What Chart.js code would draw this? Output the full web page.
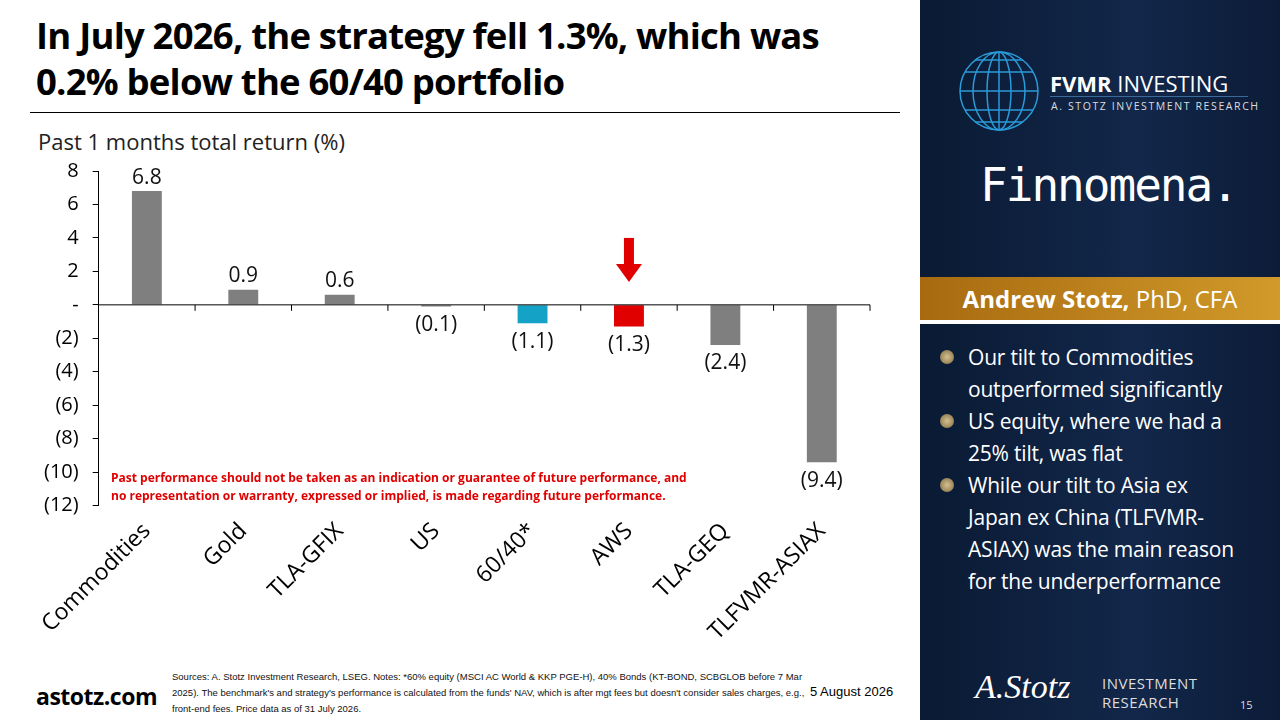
<!DOCTYPE html>
<html><head><meta charset="utf-8">
<script src="https://cdn.jsdelivr.net/npm/chart.js@4/dist/chart.umd.min.js"></script>
<style>
body{margin:0;width:1280px;height:720px;overflow:hidden;font-family:"Open Sans",sans-serif;background:#fff;position:relative}
#title{position:absolute;left:36px;top:12px;font:bold 36.5px "Open Sans",sans-serif;letter-spacing:-0.8px;line-height:46px;color:#000}
#rule{position:absolute;left:30px;top:112px;width:870px;border-top:1px solid #000}
#sub{position:absolute;left:38px;top:126px;font:22px "Open Sans",sans-serif;color:#222}
#wrap{position:absolute;left:30px;top:145px;width:850px;height:505px}
#disc{position:absolute;left:111px;top:469px;font:bold 12px "Open Sans",sans-serif;color:#e00000;line-height:18px}
#panel{position:absolute;left:920px;top:0;width:360px;height:720px;background:linear-gradient(90deg,#0a1a33,#12274a 60%,#0c1c38)}
#band{position:absolute;left:920px;top:277px;width:360px;height:43px;background:linear-gradient(90deg,#a86a10,#d19a2a);color:#fff;font:24px "Open Sans",sans-serif;text-align:center;line-height:43px;border-bottom:4px solid #fff}
#bul{position:absolute;left:938px;top:341px;width:318px;color:#fff;font:21px "Open Sans",sans-serif;line-height:32px;letter-spacing:-0.2px}
#bul div{padding-left:30px;position:relative}
#bul div:before{content:"";position:absolute;left:2px;top:9px;width:14px;height:14px;border-radius:50%;background:radial-gradient(#d8c090,#7a6a40)}
#foot{position:absolute;left:172px;top:669px;font:9.5px "Liberation Sans Narrow",sans-serif;color:#111;line-height:16px;width:640px}
</style></head><body>
<div id="title">In July 2026, the strategy fell 1.3%, which was<br>0.2% below the 60/40 portfolio</div>
<div id="rule"></div>
<div id="sub">Past 1 months total return (%)</div>
<div id="wrap"><canvas id="c"></canvas></div>
<div id="disc">Past performance should not be taken as an indication or guarantee of future performance, and<br>no representation or warranty, expressed or implied, is made regarding future performance.</div>
<div id="panel">
  <svg style="position:absolute;left:38px;top:50px" width="82" height="82" viewBox="0 0 82 82"><g fill="none" stroke="#2a9ad8" stroke-width="1.5"><circle cx="41" cy="41" r="39"/><ellipse cx="41" cy="41" rx="26" ry="39"/><ellipse cx="41" cy="41" rx="12" ry="39"/><line x1="41" y1="2" x2="41" y2="80"/><line x1="2" y1="41" x2="80" y2="41"/><line x1="7" y1="22" x2="75" y2="22"/><line x1="7" y1="60" x2="75" y2="60"/><line x1="17" y1="10" x2="65" y2="10"/><line x1="17" y1="72" x2="65" y2="72"/></g></svg>
  <div style="position:absolute;left:130px;top:68px;color:#fff;font:bold 22px 'Open Sans',sans-serif">FVMR <span style="font-weight:normal">INVESTING</span></div>
  <div style="position:absolute;left:130px;top:96px;width:198px;border-top:1px solid #3a6a9a"></div>
  <div style="position:absolute;left:131px;top:99px;color:#ddd;font:10.5px 'Open Sans',sans-serif;letter-spacing:1.6px">A. STOTZ INVESTMENT RESEARCH</div>
  <div style="position:absolute;left:60px;top:158px;color:#fff;font:46px 'DejaVu Sans Mono',monospace;letter-spacing:-2px">Finnomena.</div>
  <div style="position:absolute;left:55px;top:668px;color:#fff;font:italic 34px serif">A.Stotz</div>
  <div style="position:absolute;left:182px;top:674px;color:#ddd;font:15px 'Open Sans',sans-serif;line-height:19px;letter-spacing:0.5px">INVESTMENT<br>RESEARCH</div>
  <div style="position:absolute;left:320px;top:697px;color:#ddd;font:11px 'Open Sans',sans-serif">15</div>
</div>
<div id="band"><b>Andrew Stotz,</b> PhD, CFA</div>
<div id="bul">
<div>Our tilt to Commodities outperformed significantly</div>
<div>US equity, where we had a 25% tilt, was flat</div>
<div>While our tilt to Asia ex<br>Japan ex China (TLFVMR-ASIAX) was the main reason for the underperformance</div>
</div>
<div style="position:absolute;left:36px;top:680px;font:bold 23px 'Open Sans',sans-serif;letter-spacing:-0.5px">astotz.com</div>
<div id="foot">Sources: A. Stotz Investment Research, LSEG. Notes: *60% equity (MSCI AC World &amp; KKP PGE-H), 40% Bonds (KT-BOND, SCBGLOB before 7 Mar 2025). The benchmark's and strategy's performance is calculated from the funds' NAV, which is after mgt fees but doesn't consider sales charges, e.g., front-end fees. Price data as of 31 July 2026.</div>
<div style="position:absolute;left:810px;top:684px;font:13px 'Liberation Sans Narrow',sans-serif">5 August 2026</div>
<script>
const categories = ["Commodities","Gold","TLA-GFIX","US","60/40*","AWS","TLA-GEQ","TLFVMR-ASIAX"];
const returns = [6.8, 0.9, 0.6, -0.1, -1.1, -1.3, -2.4, -9.4];
const barColors = ["#7f7f7f","#7f7f7f","#7f7f7f","#7f7f7f","#14a3c7","#e00000","#7f7f7f","#7f7f7f"];
const yTicks = [8,6,4,2,0,-2,-4,-6,-8,-10,-12];
const highlightIndex = 5;

const fmt = v => v === 0 ? "-" : v < 0 ? "(" + Math.abs(v) + ")" : String(v);
const fmt1 = v => v < 0 ? "(" + Math.abs(v).toFixed(1) + ")" : v.toFixed(1);

const labelsPlugin = {
  id: "vals",
  afterDatasetsDraw(chart) {
    const { ctx } = chart;
    const meta = chart.getDatasetMeta(0);
    const y = chart.scales.y;
    ctx.save();
    ctx.font = "21px 'Open Sans', sans-serif";
    ctx.fillStyle = "#111";
    ctx.textAlign = "center";
    meta.data.forEach((bar, i) => {
      const v = returns[i];
      if (v >= 0) { ctx.textBaseline = "bottom"; ctx.fillText(fmt1(v), bar.x, bar.y - 3); }
      else { ctx.textBaseline = "top"; ctx.fillText(fmt1(v), bar.x, Math.max(bar.y, y.getPixelForValue(0)) + 8); }
    });
    const b = meta.data[highlightIndex];
    const top = y.getPixelForValue(4);
    ctx.fillStyle = "#e00000";
    ctx.fillRect(b.x - 5, top, 10, 28);
    ctx.beginPath();
    ctx.moveTo(b.x - 13, top + 26); ctx.lineTo(b.x + 13, top + 26); ctx.lineTo(b.x, top + 44);
    ctx.closePath(); ctx.fill();
    ctx.restore();
  }
};

new Chart(document.getElementById("c"), {
  type: "bar",
  data: { labels: categories, datasets: [{ data: returns, backgroundColor: barColors, barPercentage: 0.31, categoryPercentage: 1 }] },
  options: {
    responsive: true, maintainAspectRatio: false, animation: false,
    layout: { padding: { top: 25, right: 10 } },
    plugins: { legend: { display: false }, tooltip: { enabled: false } },
    scales: {
      x: {
        grid: { display: false },
        border: { display: false },
        ticks: { color: "#000", font: { size: 23, family: "'Open Sans', sans-serif" }, maxRotation: 45, minRotation: 45, padding: 4 }
      },
      y: {
        min: -12, max: 8,
        afterBuildTicks: s => { s.ticks = yTicks.map(v => ({ value: v })); },
        grid: { drawOnChartArea: false, color: "#000", tickLength: 6 },
        border: { color: "#000" },
        ticks: { color: "#000", font: { size: 20, family: "'Open Sans', sans-serif" }, callback: fmt, padding: 14 }
      }
    }
  },
  plugins: [labelsPlugin, {
    id: "zeroLine",
    afterDraw(chart) {
      const { ctx, chartArea, scales } = chart;
      const y0 = scales.y.getPixelForValue(0);
      ctx.save(); ctx.strokeStyle = "#000"; ctx.lineWidth = 1;
      ctx.beginPath(); ctx.moveTo(chartArea.left, y0); ctx.lineTo(chartArea.right, y0); ctx.stroke();
      for (let i = 1; i <= categories.length; i++) {
        const x = chartArea.left + (chartArea.right - chartArea.left) * i / categories.length;
        ctx.beginPath(); ctx.moveTo(x, y0); ctx.lineTo(x, y0 + 6); ctx.stroke();
      }
      ctx.restore();
    }
  }]
});
</script>
</body></html>
